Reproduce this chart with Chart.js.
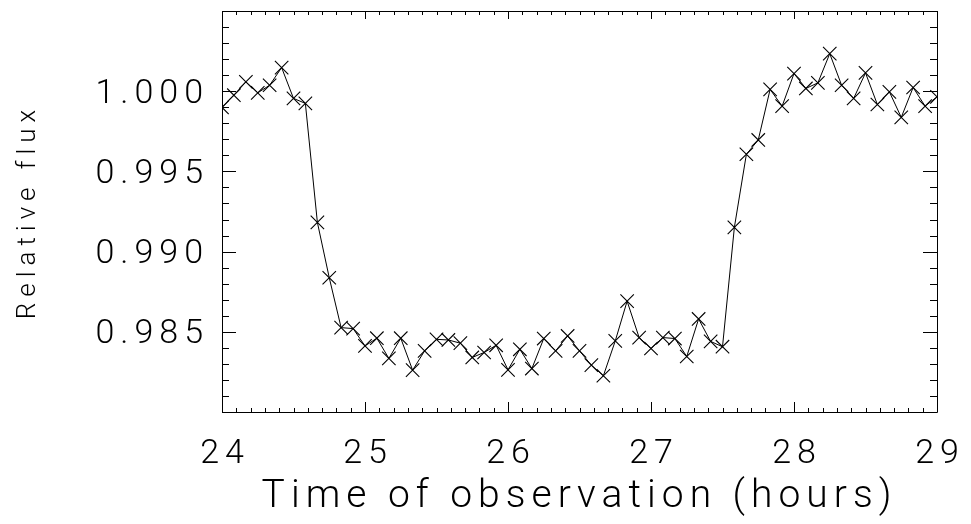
<!DOCTYPE html>
<html>
<head>
<meta charset="utf-8">
<script src="https://cdn.jsdelivr.net/npm/chart.js@4"></script>
<style>
  html, body { margin: 0; padding: 0; background: #fff; }
  #wrap { width: 971px; height: 524px; }
</style>
</head>
<body>
<div id="wrap"><canvas id="lightCurve"></canvas></div>
<script>
// observation times (hours), one sample every 5 minutes
const times = [
  24.000, 24.083, 24.167, 24.250, 24.333, 24.417, 24.500, 24.583, 24.667, 24.750,
  24.833, 24.917, 25.000, 25.083, 25.167, 25.250, 25.333, 25.417, 25.500, 25.583,
  25.667, 25.750, 25.833, 25.917, 26.000, 26.083, 26.167, 26.250, 26.333, 26.417,
  26.500, 26.583, 26.667, 26.750, 26.833, 26.917, 27.000, 27.083, 27.167, 27.250,
  27.333, 27.417, 27.500, 27.583, 27.667, 27.750, 27.833, 27.917, 28.000, 28.083,
  28.167, 28.250, 28.333, 28.417, 28.500, 28.583, 28.667, 28.750, 28.833, 28.917,
  29.000
];
// relative flux
const flux = [
  0.99899, 0.99975, 1.00058, 0.99990, 1.00037, 1.00147, 0.99955, 0.99924, 0.99182, 0.98837,
  0.98526, 0.98520, 0.98412, 0.98460, 0.98334, 0.98460, 0.98261, 0.98381, 0.98453, 0.98449,
  0.98429, 0.98340, 0.98371, 0.98416, 0.98263, 0.98391, 0.98271, 0.98458, 0.98381, 0.98474,
  0.98381, 0.98292, 0.98226, 0.98443, 0.98691, 0.98464, 0.98396, 0.98464, 0.98458, 0.98346,
  0.98580, 0.98440, 0.98407, 0.99151, 0.99607, 0.99696, 1.00011, 0.99907, 1.00110, 1.00017,
  1.00052, 1.00234, 1.00037, 0.99955, 1.00114, 0.99917, 0.99996, 0.99837, 1.00023, 0.99907,
  0.99965
];
const xTickValues = [24, 25, 26, 27, 28, 29];
const yTickValues = [0.985, 0.990, 0.995, 1.000];

const xMin = 24, xMax = 29;
const yMin = 0.980, yMax = 1.005;

const FONT = "Roboto, 'DejaVu Sans', sans-serif";
const WEIGHT = '300';

// IDL-style box with inward major/minor ticks on all four sides
const boxTicks = {
  id: 'boxTicks',
  beforeDraw(chart) {
    chart.ctx.letterSpacing = '6px';
  },
  afterDatasetsDraw(chart) {
    const {ctx, chartArea: a, scales: {x, y}} = chart;
    ctx.save();
    ctx.strokeStyle = '#000';
    ctx.lineWidth = 1;
    ctx.beginPath();
    ctx.rect(Math.round(a.left) + 0.5, Math.round(a.top) + 0.5,
             Math.round(a.right - a.left), Math.round(a.bottom - a.top));
    // x: minor every 0.1 h
    for (let k = 0; k <= (xMax - xMin) * 10; k++) {
      const v = xMin + k / 10;
      const px = Math.round(x.getPixelForValue(v)) + 0.5;
      const major = k % 10 === 0;
      ctx.moveTo(px, a.bottom); ctx.lineTo(px, a.bottom - (major ? 10 : 4));
      ctx.moveTo(px, a.top); ctx.lineTo(px, a.top + (major ? 8 : 4));
    }
    // y: minor every 0.001
    for (let k = 0; k <= Math.round((yMax - yMin) * 1000); k++) {
      const v = yMin + k / 1000;
      const py = Math.round(y.getPixelForValue(v)) + 0.5;
      const len = k % 5 === 0 ? 14 : 7;
      ctx.moveTo(a.left, py); ctx.lineTo(a.left + len, py);
      ctx.moveTo(a.right, py); ctx.lineTo(a.right - len, py);
    }
    ctx.stroke();
    ctx.restore();
  }
};

const ctx = document.getElementById('lightCurve');

const chart1 = new Chart(ctx, {
  type: 'line',
  data: {
    datasets: [
      {
        label: 'Relative flux',
        data: times.map((t, i) => ({x: t, y: flux[i]})),
        borderColor: '#000',
        borderWidth: 1,
        backgroundColor: '#000',
        pointStyle: 'crossRot',
        pointRadius: 9.5,
        pointBorderWidth: 1.1,
        pointBorderColor: '#000',
        tension: 0,
        fill: false,
      },
    ],
  },
  options: {
    responsive: true,
    maintainAspectRatio: false,
    animation: false,
    events: [],
    layout: {
      padding: {top: 11, right: 34, left: 0, bottom: 0}
    },
    plugins: {
      legend: { display: false },
      tooltip: { enabled: false },
    },
    scales: {
      x: {
        type: 'linear',
        min: xMin,
        max: xMax,
        afterBuildTicks: (scale) => { scale.ticks = xTickValues.map(v => ({value: v})); },
        afterFit: (scale) => {
          scale.height = 112;
          scale.paddingLeft = 0;
          scale.paddingRight = 0;
        },
        grid: { display: false, drawTicks: false },
        border: { display: false },
        ticks: {
          color: '#000',
          padding: 22,
          labelOffset: 3,
          maxRotation: 0,
          font: { family: FONT, size: 34, weight: WEIGHT },
          callback: (v) => String(v),
        },
        title: {
          display: true,
          text: 'Time of observation (hours)',
          color: '#000',
          padding: {top: 0, bottom: 7},
          font: { family: FONT, size: 39, weight: WEIGHT, lineHeight: 1 },
        },
      },
      y: {
        type: 'linear',
        min: yMin,
        max: yMax,
        afterBuildTicks: (scale) => { scale.ticks = yTickValues.map(v => ({value: v})); },
        afterFit: (scale) => {
          scale.width = 222;
          scale.paddingTop = 0;
          scale.paddingBottom = 0;
        },
        grid: { display: false, drawTicks: false },
        border: { display: false },
        ticks: {
          color: '#000',
          padding: 13,
          labelOffset: 3,
          font: { family: FONT, size: 34, weight: WEIGHT },
          callback: (v) => v.toFixed(3),
        },
        title: {
          display: true,
          text: 'Relative flux',
          color: '#000',
          padding: {top: 15, bottom: 0},
          font: { family: FONT, size: 26, weight: WEIGHT, lineHeight: 1 },
        },
      },
    },
  },
  plugins: [boxTicks],
});
</script>
</body>
</html>
